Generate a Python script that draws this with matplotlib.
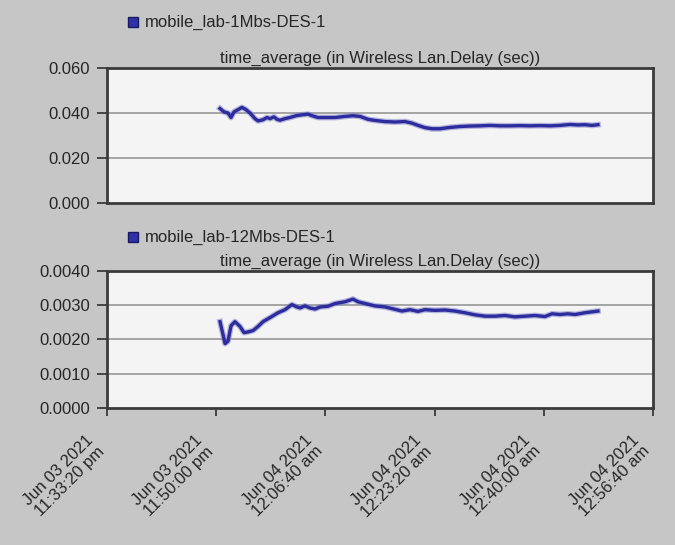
import matplotlib.pyplot as plt
from matplotlib.patches import Rectangle

plt.rcParams['font.family'] = ['Liberation Sans', 'DejaVu Sans']

# elapsed seconds since Jun 03 2021 11:33:20 pm
t1 = [1035, 1071, 1108, 1136, 1163, 1200, 1236, 1273, 1310, 1355, 1383, 1429,
      1465, 1493, 1529, 1557, 1584, 1630, 1676, 1731, 1786, 1841, 1877, 1932,
      2005, 2088, 2179, 2253, 2317, 2390, 2454, 2546, 2637, 2729, 2793, 2848,
      2912, 2976, 3049, 3141, 3233, 3324, 3416, 3507, 3599, 3690, 3782, 3874,
      3965, 4057, 4148, 4240, 4313, 4377, 4441, 4496]
delay1 = [0.0420, 0.0405, 0.0400, 0.0380, 0.0405, 0.0415, 0.0425, 0.0415,
          0.0400, 0.0375, 0.0365, 0.0370, 0.0380, 0.0375, 0.0383, 0.0372,
          0.0368, 0.0375, 0.0380, 0.0388, 0.0392, 0.0395, 0.0388, 0.0380,
          0.0380, 0.0380, 0.0385, 0.0388, 0.0385, 0.0372, 0.0367, 0.0362,
          0.0360, 0.0362, 0.0355, 0.0345, 0.0335, 0.0330, 0.0330, 0.0336,
          0.0340, 0.0342, 0.0343, 0.0345, 0.0343, 0.0343, 0.0344, 0.0343,
          0.0344, 0.0343, 0.0345, 0.0349, 0.0347, 0.0348, 0.0345, 0.0348]

t2 = [1035, 1062, 1081, 1108, 1136, 1172, 1218, 1255, 1291, 1337, 1383, 1429,
      1493, 1566, 1630, 1694, 1731, 1767, 1813, 1859, 1905, 1951, 2024, 2088,
      2179, 2253, 2299, 2363, 2454, 2546, 2637, 2701, 2775, 2848, 2912, 3004,
      3095, 3187, 3278, 3370, 3462, 3553, 3645, 3736, 3828, 3919, 4011, 4075,
      4148, 4222, 4286, 4377, 4496]
delay2 = [0.00252, 0.00215, 0.00188, 0.00195, 0.00240, 0.00252, 0.00238,
          0.00220, 0.00222, 0.00226, 0.00238, 0.00252, 0.00264, 0.00278,
          0.00287, 0.00302, 0.00296, 0.00292, 0.00298, 0.00292, 0.00289,
          0.00295, 0.00297, 0.00305, 0.00310, 0.00318, 0.00310, 0.00305,
          0.00298, 0.00295, 0.00288, 0.00283, 0.00287, 0.00282, 0.00287,
          0.00285, 0.00286, 0.00283, 0.00278, 0.00272, 0.00268, 0.00268,
          0.00270, 0.00266, 0.00268, 0.00270, 0.00267, 0.00275, 0.00273,
          0.00275, 0.00273, 0.00278, 0.00283]

xticks = [0, 1000, 2000, 3000, 4000, 5000]
xlabels = ["Jun 03 2021\n11:33:20 pm", "Jun 03 2021\n11:50:00 pm",
           "Jun 04 2021\n12:06:40 am", "Jun 04 2021\n12:23:20 am",
           "Jun 04 2021\n12:40:00 am", "Jun 04 2021\n12:56:40 am"]
yticks1 = [0.0, 0.02, 0.04, 0.06]
yticks2 = [0.0, 0.001, 0.002, 0.003, 0.004]
names = ["mobile_lab-1Mbs-DES-1", "mobile_lab-12Mbs-DES-1"]
title = "time_average (in Wireless Lan.Delay (sec))"

bg = '#c5c6c5'
txt = '#262626'
line_c = '#2c2c9e'

fig = plt.figure(figsize=(6.75, 5.45), dpi=100, facecolor=bg)
ax1 = fig.add_axes([0.1585, 0.6275, 0.8089, 0.2477])
ax2 = fig.add_axes([0.1585, 0.2514, 0.8089, 0.2514])

for ax, t, y, yt, fmt in [(ax1, t1, delay1, yticks1, "{:.3f}"),
                          (ax2, t2, delay2, yticks2, "{:.4f}")]:
    ax.set_facecolor('#f4f4f4')
    ax.plot(t, y, color='#8585c8', lw=4.2, alpha=0.55, solid_joinstyle='round')
    ax.plot(t, y, color=line_c, lw=2.4, solid_joinstyle='round')
    ax.set_xlim(0, 5000)
    ax.set_ylim(yt[0], yt[-1])
    ax.set_yticks(yt)
    ax.set_yticklabels([fmt.format(v) for v in yt], fontsize=12, color=txt)
    for v in yt[1:-1]:
        ax.axhline(v, color='#a4a4a4', lw=1.4, zorder=0)
    for s in ax.spines.values():
        s.set_color('#3a3a3a')
        s.set_linewidth(2)
    ax.tick_params(axis='y', direction='out', length=7, width=1.3,
                   color='#3a3a3a', pad=5)

ax1.set_xticks([])
ax1.set_title(title, fontsize=12, color=txt, pad=4)
ax2.set_title(title, fontsize=12, color=txt, pad=4)
ax2.set_xticks(xticks)
ax2.set_xticklabels(xlabels, rotation=45, ha='right', va='top',
                    fontsize=12, color=txt, linespacing=1.0)
ax2.tick_params(axis='x', direction='out', length=6, width=1.3,
                color='#3a3a3a', pad=12)

# legend swatches
for yy, name in [(22, names[0]), (237, names[1])]:
    fig.patches.append(Rectangle((128 / 675, 1 - (yy + 5) / 545), 10 / 675, 10 / 545,
                                 transform=fig.transFigure, facecolor='#3030a8',
                                 edgecolor='#1a1a60', lw=1))
    fig.text(145 / 675, 1 - yy / 545, name, fontsize=12, color=txt,
             va='center', ha='left')

fig.savefig('out.png', dpi=100, facecolor=bg)
